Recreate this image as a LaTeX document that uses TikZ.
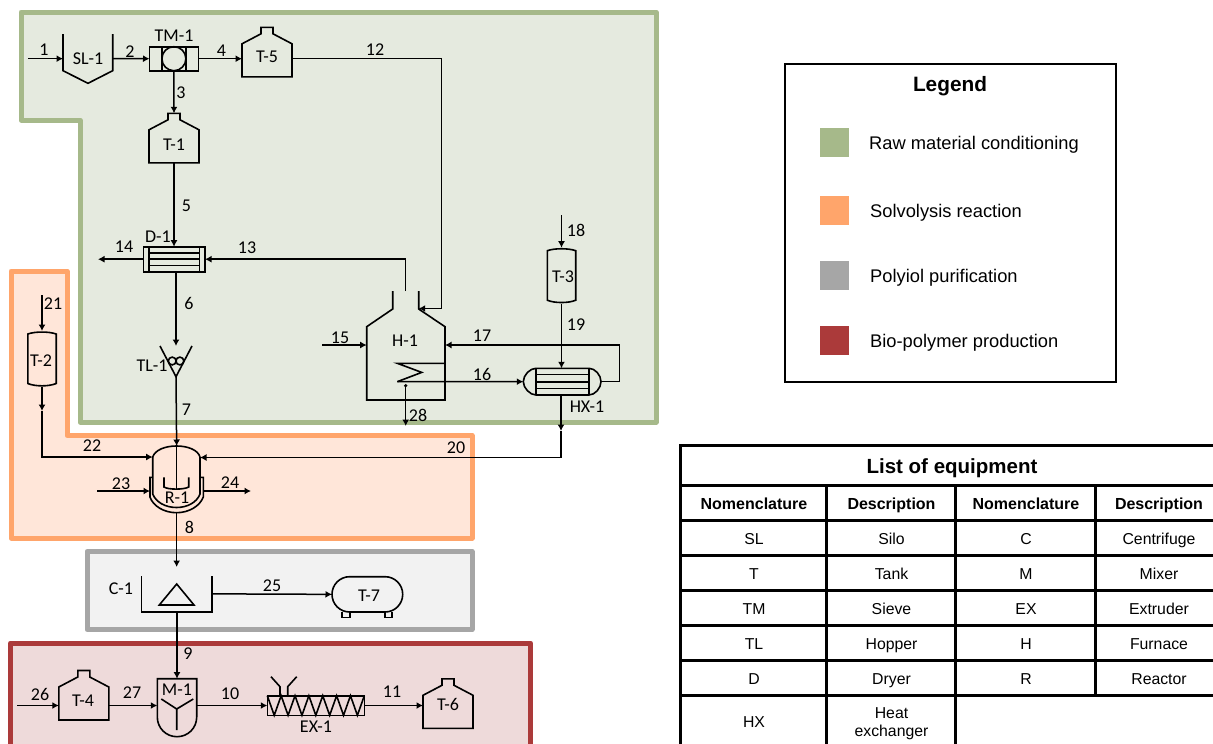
\documentclass[tikz,border=0pt]{standalone}
\usepackage{fontspec}
\setmainfont{Carlito}
\newfontfamily\tablefont{Liberation Sans}
\usetikzlibrary{arrows.meta}

\definecolor{rawgreen}{HTML}{A6B98A}
\definecolor{rawfill}{HTML}{E5EADF}
\definecolor{solvorange}{HTML}{FFA56B}
\definecolor{solvfill}{HTML}{FFE6D9}
\definecolor{polygray}{HTML}{A6A6A6}
\definecolor{polyfill}{HTML}{F2F2F2}
\definecolor{biored}{HTML}{AB3A3A}
\definecolor{biofill}{HTML}{EEDADA}

\tikzset{
    region/.style={line width=5pt, line join=round},
    unit/.style={line width=1.6pt, line join=miter},
    pipe/.style={line width=1.5pt},
    flow/.style={pipe, -{Latex[length=6.5pt,width=7pt]}},
    body/.style={inner sep=0pt, outer sep=0pt},
    tag/.style={inner sep=0pt, font=\fontsize{18}{20}\selectfont},
    legtext/.style={anchor=base west, inner sep=0pt, yshift=-6.5pt, font=\tablefont\fontsize{18.3}{21}\selectfont},
    cell/.style={anchor=base, inner sep=0pt, yshift=-6.6pt, font=\tablefont\fontsize{15.8}{18}\selectfont},
    headcell/.style={anchor=base, inner sep=0pt, yshift=-6.6pt, font=\tablefont\bfseries\fontsize{16}{18}\selectfont},
    grid/.style={line width=3pt},
}

\newcommand{\tankat}[3]{
    \draw[unit, shift={(#2,#3)}] (-25,49.5) -- (-25,16.5) -- (-6,6.5) -- (-6,0) -- (6,0) -- (6,6.5) -- (25,16.5) -- (25,49.5) -- cycle;
    \node[body, minimum width=50pt, minimum height=33pt] (#1) at (#2,#3+33) {};
    \coordinate (#1top) at (#2,#3);
}
\newcommand{\vesselat}[3]{
    \draw[unit, shift={(#2,#3)}] (-14.2,3) .. controls (-7,0.4) and (7,0.4) .. (14.2,3) -- (14.2,52.5)
        .. controls (7,55.6) and (-7,55.6) .. (-14.2,52.5) -- cycle;
    \node[body, minimum width=28.4pt, minimum height=56pt] (#1) at (#2,#3+28) {};
}

\begin{document}
\begin{tikzpicture}[x=1pt, y=-1pt]
    \useasboundingbox (0,0) rectangle (1213,744);

    \draw[region, draw=rawgreen, fill=rawfill] (21,12) -- (656,12) -- (656,422) -- (80,422) -- (80,120) -- (21,120) -- cycle;
    \draw[region, draw=solvorange, fill=solvfill] (11,271) -- (67,271) -- (67,435.5) -- (472,435.5) -- (472,538) -- (11,538) -- cycle;
    \draw[region, draw=polygray, fill=polyfill] (87,551.5) rectangle (472,629.5);
    \fill[biofill] (10.5,643) rectangle (530.5,744);
    \draw[region, draw=biored] (10.5,744) -- (10.5,643) -- (530.5,643) -- (530.5,744);

    \draw[unit] (63,34) -- (63,70.7) -- (88,83.3) -- (112.7,70.7) -- (112.7,34);
    \node[body, minimum width=49.7pt, minimum height=49.3pt] (SL1) at (87.85,58.65) {};

    \node[body, draw, unit, minimum width=48.8pt, minimum height=24pt] (TM1) at (173.9,58.7) {};
    \draw[unit] (161.7,46.7) -- (161.7,70.7) (186,46.7) -- (186,70.7);
    \draw[unit] (173.9,58.7) circle (12);

    \tankat{T5}{267}{27.3}
    \tankat{T1}{174}{113.3}
    \tankat{T4}{83.8}{670.5}
    \tankat{T6}{448}{678.8}

    \node[body, draw, unit, minimum width=61.7pt, minimum height=25pt] (D1) at (174.2,259.2) {};
    \draw[unit] (149,246.7) -- (149,271.7) (199.3,246.7) -- (199.3,271.7);
    \draw[unit] (149,252.9) -- (199.3,252.9) (149,259.2) -- (199.3,259.2) (149,265.4) -- (199.3,265.4);

    \draw[unit] (160,346) -- (176,376.7) -- (192,346);
    \draw[unit] (172.2,361) circle (3.9) (179.9,361) circle (3.9);
    \node[body, minimum width=32pt, minimum height=30.7pt] (TL1) at (176,361.35) {};

    \vesselat{T3}{561.5}{247.7}
    \vesselat{T2}{42}{331}

    \draw[unit] (392.7,291) -- (392.7,309) -- (366.7,326.7) -- (366.7,400) -- (445,400) -- (445,326.7) -- (418.7,309) -- (418.7,291);
    \node[body, minimum width=78.3pt, minimum height=109.3pt] (H1) at (405.85,345.35) {};
    \draw[unit] (445,363.3) -- (397.3,363.3) -- (421.7,372.4) -- (397.3,381.7);

    \draw[unit] (536,368.3) -- (589,368.3) .. controls (595,368.3) and (601,375) .. (601,381.7)
        .. controls (601,388) and (595,395) .. (589,395) -- (536,395) .. controls (530,395) and (523.3,388) .. (523.3,381.7)
        .. controls (523.3,375) and (530,368.3) .. (536,368.3);
    \draw[unit] (536,368.3) -- (536,395) (588.7,368.3) -- (588.7,395);
    \draw[unit] (536,374.5) -- (588.7,374.5) (536,381.7) -- (588.7,381.7) (536,388.3) -- (588.7,388.3);
    \node[body, minimum width=77.7pt, minimum height=26.7pt] (HX1) at (562.15,381.65) {};

    \draw[unit] (152.7,457) .. controls (155,450) and (165,446) .. (176.5,446) .. controls (188,446) and (198,450) .. (200,457);
    \draw[unit] (152.7,457) -- (152.7,494) .. controls (156,502) and (165,507.5) .. (176.5,507.5) .. controls (188,507.5) and (197,502) .. (200,494) -- (200,457);
    \draw[unit] (152.7,477.3) -- (150,477.3) -- (150,497) .. controls (153,506) and (164,512.7) .. (176.5,512.7) .. controls (189,512.7) and (200,506) .. (203.3,497) -- (203.3,477.3) -- (200,477.3);
    \draw[unit] (164,477.3) -- (164,487) .. controls (168,489.8) and (184,489.8) .. (188.7,487) -- (188.7,477.3);
    \node[body, minimum width=53.3pt, minimum height=66.7pt] (R1) at (176.65,479.35) {};

    \draw[unit] (141.3,576) -- (141.3,611.7) -- (212,611.7) -- (212,576);
    \draw[unit] (159.3,605) -- (194,605) -- (176.7,584) -- cycle;
    \node[body, minimum width=70.7pt, minimum height=35.7pt] (C1) at (176.65,593.85) {};

    \node[body, draw, unit, rounded corners=17.6pt, minimum width=70.7pt, minimum height=35.3pt] (T7) at (367.35,594.35) {};
    \draw[unit] (342,612) -- (342,617.3) -- (350,617.3) -- (350,612) (384.7,612) -- (384.7,617.3) -- (392,617.3) -- (392,612);

    \draw[unit] (157.3,678.7) -- (196.7,678.7) -- (196.7,717) .. controls (196.7,728) and (188,736.7) .. (177,736.7)
        .. controls (166,736.7) and (157.3,728) .. (157.3,717) -- cycle;
    \draw[unit] (161.3,699) -- (176.7,709) -- (193.3,699) (176.7,709) -- (176.7,730);
    \node[body, minimum width=39.4pt, minimum height=58pt] (M1) at (177,707.7) {};

    \node[body, draw, unit, minimum width=97pt, minimum height=19.6pt] (EX1) at (315.8,705.5) {};
    \draw[unit] (267.3,695.7) \foreach \k in {1,3,...,13} {-- (267.3+6.93*\k,715.3) -- (267.3+6.93*\k+6.93,695.7)};
    \draw[unit] (280,695.7) -- (280,686.7) -- (271,676.7) (287.7,695.7) -- (287.7,686.7) -- (296.7,676.7);

    \coordinate (f1) at (28,58.65);
    \coordinate (f12) at (441.7,308.5);
    \coordinate (H1r) at (418.7,308.5);
    \coordinate (H1l) at (405.7,291);
    \coordinate (f14) at (98,259.2);
    \coordinate (f15) at (322,345);
    \coordinate (coil) at (397.3,381.7);
    \coordinate (f17) at (619.4,345);
    \coordinate (f18) at (561.5,215);
    \coordinate (f21) at (42,295);
    \coordinate (m22) at (42,411);
    \coordinate (f22) at (152.7,457);
    \coordinate (m20) at (561,431);
    \coordinate (f20) at (200,457.5);
    \coordinate (f23) at (97,491);
    \coordinate (f24) at (251,491);
    \coordinate (shaft) at (176.65,489);
    \coordinate (f8) at (176.65,567);
    \coordinate (f26) at (17,705.5);
    \coordinate (d28) at (405.7,385.7);
    \coordinate (f28) at (405.7,426);

    \draw[flow] (f1) -- (SL1.west);
    \draw[flow] (SL1.east) -- (TM1.west);
    \draw[flow] (TM1.south) -- (T1top);
    \draw[flow] (TM1.east) -- (TM1.east -| T5.west);
    \draw[flow] (T1.south) -- (T1.south |- D1.north);
    \draw[flow] (TL1.north |- D1.south) -- (TL1.north);
    \draw[flow] (TL1.south) -- (R1.north);
    \draw[pipe] (R1.north) -- (shaft);
    \draw[flow] (R1.south) -- (f8);
    \draw[flow] (C1.south -| M1.north) -- (M1.north);
    \draw[flow] (f26 -| M1.east) -- (EX1.west);
    \draw[flow] (EX1.east) -- (EX1.east -| T6.west);
    \draw[flow] (TM1.east -| T5.east) -| (f12) -- (H1r);
    \draw[flow] (H1l) |- (D1.east);
    \draw[flow] (D1.west) -- (f14);
    \draw[flow] (f15) -- (f15 -| H1.west);
    \draw[flow] (coil) -- (HX1.west);
    \draw[flow] (HX1.east) -| (f17) -- (f17 -| H1.east);
    \draw[flow] (f18) -- (T3.north);
    \draw[flow] (T3.south) -- (T3.south |- HX1.north);
    \draw[flow] (HX1.south -| m20) -- (m20);
    \draw[flow] (m20) |- (f20);
    \draw[flow] (f21) -- (T2.north);
    \draw[flow] (T2.south) -- (m22);
    \draw[flow] (m22) |- (f22);
    \draw[flow] (f23) -- (f23 -| R1.west);
    \draw[flow] (f23 -| R1.east) -- (f24);
    \draw[flow] (C1.east) -- (T7.west);
    \draw[flow] (f26) -- (f26 -| T4.west);
    \draw[flow] (f26 -| T4.east) -- (f26 -| M1.west);
    \draw[flow] (d28) -- (f28);
    \fill (d28) circle (1.8);

    \foreach \t/\x/\y [count=\k] in {SL-1/88/59, TM-1/174/36, T-5/267/57, T-1/174/145, D-1/158/237, TL-1/152/366,
        T-3/563/277, H-1/405/341, HX-1/587/407, T-2/41/361, R-1/177/498, C-1/121/589, T-7/369/596,
        M-1/177/690, T-4/83/701, EX-1/316/727, T-6/448/704}
        \node[tag] (tag\k) at (\x,\y) {\t};

    \foreach \n/\x/\y in {1/44/50, 2/130/52, 3/181/93, 4/221.5/51, 5/186.5/206, 6/189/303, 7/186.5/410, 8/189.5/527,
        9/188/654, 10/230/694, 11/392/692, 12/375/50, 13/247/248, 14/124/247, 15/340/338, 16/482/374, 17/482/336,
        18/576/230, 19/576/325, 20/456/448, 21/53/304, 22/92/446, 23/121/484, 24/230/483, 25/272/586, 26/40/694,
        27/132/693, 28/418/415}
        \node[tag] (lab\n) at (\x,\y) {\n};

    \node[draw, line width=2pt, minimum width=331pt, minimum height=318pt] (legend) at (950.5,223) {};
    \node[inner sep=0pt, font=\tablefont\bfseries\fontsize{20.8}{23}\selectfont] (legendtitle) at (950,86) {Legend};
    \foreach \c/\y/\x/\t [count=\k] in {rawgreen/142.5/869/Raw material conditioning, solvorange/210.5/870/Solvolysis reaction,
        polygray/275.5/870/Polyiol purification, biored/340.5/870/Bio-polymer production} {
        \node[fill=\c, inner sep=0pt, minimum size=29.5pt] (swatch\k) at (834.5,\y) {};
        \node[legtext] (legtext\k) at (\x,\y) {\t};
    }

    \draw[grid] (680,445.5) -- (1213,445.5);
    \foreach \ry in {485,520,...,695}
        \draw[grid] (680,\ry) -- (1213,\ry);
    \draw[grid] (680,444) -- (680,744);
    \draw[grid] (826.5,485) -- (826.5,744);
    \draw[grid] (955.5,485) -- (955.5,744);
    \draw[grid] (1095.5,485) -- (1095.5,695);

    \node[inner sep=0pt, font=\tablefont\bfseries\fontsize{20.5}{23}\selectfont] (tabletitle) at (952,468) {List of equipment};
    \node[headcell] (headA) at (754,503) {Nomenclature};
    \node[headcell] (headB) at (891.5,503) {Description};
    \node[headcell] (headC) at (1026,503) {Nomenclature};
    \node[headcell] (headD) at (1159,503) {Description};
    \foreach \a/\b/\c/\d [count=\k, evaluate=\k as \ry using 503+35*\k] in {SL/Silo/C/Centrifuge, T/Tank/M/Mixer,
        TM/Sieve/EX/Extruder, TL/Hopper/H/Furnace, D/Dryer/R/Reactor} {
        \node[cell] (cellA\k) at (754,\ry) {\a};
        \node[cell] (cellB\k) at (891.5,\ry) {\b};
        \node[cell] (cellC\k) at (1026,\ry) {\c};
        \node[cell] (cellD\k) at (1159,\ry) {\d};
    }
    \node[cell] (cellHX) at (754,721) {HX};
    \node[inner sep=0pt, align=center, font=\tablefont\fontsize{15.8}{18}\selectfont] (cellHeat) at (891.5,723.5) {Heat\\exchanger};
\end{tikzpicture}
\end{document}
